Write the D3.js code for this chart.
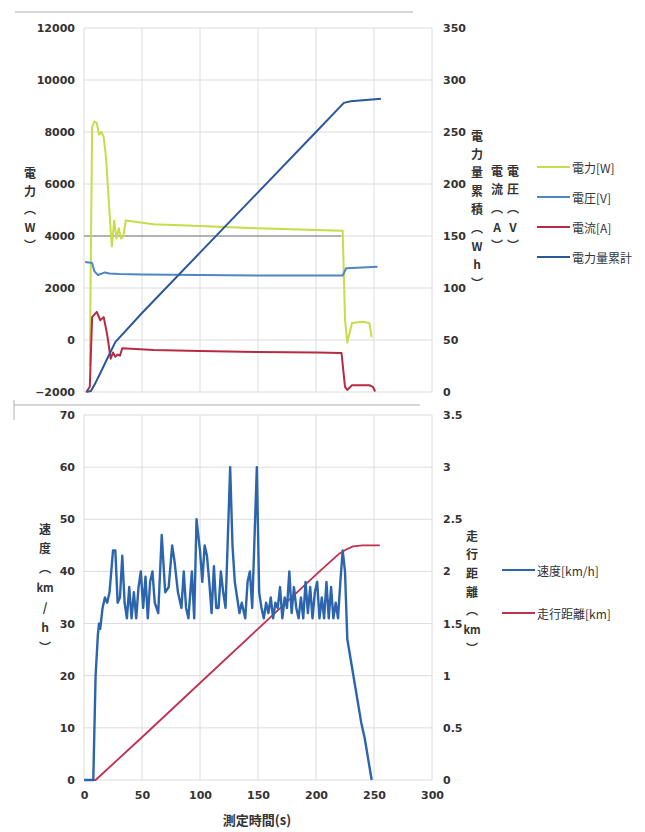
<!DOCTYPE html>
<html>
<head>
<meta charset="utf-8">
<title>電力・速度 測定</title>
<script src="https://d3js.org/d3.v7.min.js"></script>
<style>
  body { margin: 0; background: #fff; }
  .tick text { font-family: 'DejaVu Sans', sans-serif; font-size: 11px; font-weight: bold; fill: #333; }
  .grid line { stroke: #dcdcdc; stroke-width: 1; }
  .ttl { font-family: 'Noto Sans CJK JP', sans-serif; font-size: 13px; font-weight: bold; fill: #333; }
  .leg { font-family: 'Noto Sans CJK JP', sans-serif; font-size: 12px; fill: #333; }
</style>
</head>
<body>
<div id="chart"></div>
<script>
// ---- data ----
// top chart: power [W] (left axis)
var powerTime = [5, 7, 9, 11, 13, 15, 17, 19, 21, 23, 24, 26, 28, 30, 32, 34, 36, 60, 100, 150, 200, 223, 225, 227, 231, 240, 246, 248];
var powerW    = [-1000, 8200, 8400, 8350, 7900, 8000, 7800, 7000, 5600, 4200, 3600, 4600, 3900, 4300, 3900, 4000, 4600, 4450, 4380, 4300, 4230, 4200, 800, -100, 650, 700, 650, 100];

// voltage [V] (right axis)
var voltTime = [1, 7, 9, 12, 18, 22, 30, 50, 100, 150, 200, 223, 226, 253];
var voltV    = [125, 124, 116, 112.5, 115, 114, 113.5, 113, 112.5, 112, 112, 112, 119, 120.5];

// current [A] (right axis)
var currTime = [2, 5, 7, 11, 14, 17, 20, 23, 25, 27, 29, 31, 33, 60, 100, 150, 200, 222, 225, 227, 231, 246, 249, 251];
var currA    = [0, 5, 72, 77, 69, 72, 55, 32, 38, 34, 36, 35, 42, 40.5, 39.5, 38.5, 38, 37.5, 5, 2, 6.5, 6.5, 5, 0.5];

// cumulative energy [Wh] (right axis)
var energyTime = [2, 6, 10, 14, 20, 27, 50, 100, 150, 200, 224, 230, 256];
var energyWh   = [0, 1, 9, 18, 32, 48, 76, 134, 192, 250, 278, 279.5, 282];

// bottom chart: speed [km/h] (left axis)
var speedTime = [0, 8, 10, 12, 13, 14, 16, 18, 20, 22, 25, 27, 29, 31, 33, 35, 37, 39, 41, 43, 45, 47, 49, 51, 53, 55, 57, 59, 61, 64, 67, 70, 73, 76, 78, 81, 84, 86, 88, 90, 93, 95, 97, 100, 102, 104, 106, 108, 110, 112, 114, 116, 118, 120, 122, 126, 128, 130, 132, 134, 136, 139, 141, 143, 145, 149, 151, 153, 155, 157, 159, 161, 163, 165, 167, 169, 171, 173, 175, 177, 179, 181, 183, 185, 187, 189, 191, 193, 195, 197, 199, 201, 203, 205, 207, 209, 211, 213, 215, 217, 219, 221, 223, 225, 227, 230, 233, 236, 239, 242, 245, 248];
var speedKmh  = [0, 0, 20, 28, 30, 29, 33, 35, 34, 36, 44, 44, 34, 35, 43, 34, 31, 37, 31, 36, 31, 37, 40, 33, 39, 31, 38, 40, 34, 32, 47, 36, 37, 45, 42, 36, 33, 40, 33, 31, 40, 31, 50, 44, 38, 45, 43, 38, 32, 41, 33, 33, 40, 36, 33, 60, 45, 38, 35, 32, 34, 31, 38, 40, 33, 60, 36, 33, 31, 34, 32, 35, 31, 34, 33, 37, 31, 35, 33, 40, 32, 37, 33, 31, 35, 31, 38, 32, 37, 31, 36, 38, 31, 35, 31, 38, 31, 37, 31, 34, 31, 38, 44, 40, 27, 23, 19, 15, 11, 8, 4, 0];

// travelled distance [km] (right axis)
var distTime = [0, 10, 50, 100, 150, 200, 220, 226, 232, 240, 255];
var distKm   = [0, 0, 0.41, 0.93, 1.45, 1.97, 2.17, 2.21, 2.24, 2.25, 2.25];

// ticks
var timeTicks = [0, 50, 100, 150, 200, 250, 300];
var powerTicks = [-2000, 0, 2000, 4000, 6000, 8000, 10000, 12000];
var rightTopTicks = [0, 50, 100, 150, 200, 250, 300, 350];
var speedTicks = [0, 10, 20, 30, 40, 50, 60, 70];
var distTicks = [0, 0.5, 1, 1.5, 2, 2.5, 3, 3.5];

var topLegend = ['電力[W]', '電圧[V]', '電流[A]', '電力量累計'];
var bottomLegend = ['速度[km/h]', '走行距離[km]'];

var width = 645, height = 832;

var svg = d3.select('#chart').append('svg')
  .attr('width', width).attr('height', height)
  .style('background-color', '#fff');

var x = d3.scaleLinear().domain([0, 300]).range([84, 432]);

var yPow = d3.scaleLinear().domain([-2000, 12000]).range([392, 28]);
var yTopR = d3.scaleLinear().domain([0, 350]).range([392, 28]);
var ySpd = d3.scaleLinear().domain([0, 70]).range([780, 415]);
var yDist = d3.scaleLinear().domain([0, 3.5]).range([780, 415]);

// scan frame lines
svg.append('line').attr('x1', 15).attr('x2', 413).attr('y1', 12).attr('y2', 12)
  .style('stroke', '#c8c8c8').style('stroke-width', 1.5);
svg.append('line').attr('x1', 14).attr('x2', 420).attr('y1', 405).attr('y2', 405)
  .style('stroke', '#c8c8c8').style('stroke-width', 1.5);
svg.append('line').attr('x1', 14).attr('x2', 14).attr('y1', 400).attr('y2', 420)
  .style('stroke', '#b0b0b0').style('stroke-width', 1);

// gridlines
function grid(yScale, yTicks, top, bottom) {
  var g = svg.append('g').attr('class', 'grid');
  g.selectAll('.h').data(yTicks).enter().append('line')
    .attr('x1', x(0)).attr('x2', x(300))
    .attr('y1', function(d){ return yScale(d); })
    .attr('y2', function(d){ return yScale(d); });
  g.selectAll('.v').data(timeTicks).enter().append('line')
    .attr('x1', function(d){ return x(d); }).attr('x2', function(d){ return x(d); })
    .attr('y1', top).attr('y2', bottom);
  return g;
}
grid(yPow, powerTicks, 28, 392);
grid(ySpd, speedTicks, 415, 780);

// the 4000 W gridline shows up dark in the scan
svg.append('line').attr('x1', x(0)).attr('x2', x(222))
  .attr('y1', yPow(4000)).attr('y2', yPow(4000))
  .style('stroke', '#777').style('stroke-width', 1);

// axes (labels only)
function axis(gen, tx, ty) {
  var g = svg.append('g').attr('transform', 'translate(' + tx + ',' + ty + ')').call(gen);
  g.select('.domain').remove();
  g.selectAll('.tick line').remove();
  return g;
}
axis(d3.axisLeft(yPow).tickValues(powerTicks).tickSize(0).tickPadding(9).tickFormat(d3.format('d')), x(0), 0);
axis(d3.axisRight(yTopR).tickValues(rightTopTicks).tickSize(0).tickPadding(11).tickFormat(d3.format('d')), x(300), 0);
axis(d3.axisLeft(ySpd).tickValues(speedTicks).tickSize(0).tickPadding(9).tickFormat(d3.format('d')), x(0), 0);
axis(d3.axisRight(yDist).tickValues(distTicks).tickSize(0).tickPadding(11).tickFormat(function(d){ return String(d); }), x(300), 0);
axis(d3.axisBottom(x).tickValues(timeTicks).tickSize(0).tickPadding(11).tickFormat(d3.format('d')), 0, 780);

// series lines
function drawLine(ts, vs, yScale, color, w) {
  var pts = ts.map(function(t, i){ return [t, vs[i]]; });
  var line = d3.line().x(function(d){ return x(d[0]); }).y(function(d){ return yScale(d[1]); });
  svg.append('path').datum(pts).attr('d', line)
    .style('fill', 'none').style('stroke', color).style('stroke-width', w)
    .style('stroke-linejoin', 'round');
}
var cPower = '#c8dc4a', cVolt = '#4f86c6', cCurr = '#b82a42', cEnergy = '#2b579a';
var cSpeed = '#2c65ad', cDist = '#c0304f';

drawLine(powerTime, powerW, yPow, cPower, 2);
drawLine(voltTime, voltV, yTopR, cVolt, 2);
drawLine(currTime, currA, yTopR, cCurr, 2);
drawLine(energyTime, energyWh, yTopR, cEnergy, 2);

drawLine(distTime, distKm, yDist, cDist, 1.8);
drawLine(speedTime, speedKmh, ySpd, cSpeed, 2.4);

// vertical axis titles, one glyph per row
function vTitle(tokens, cx, y0, step) {
  svg.append('g').selectAll('text').data(tokens).enter().append('text')
    .attr('class', 'ttl')
    .attr('x', cx)
    .attr('y', function(d, i){ return y0 + i * step; })
    .attr('text-anchor', 'middle')
    .attr('dominant-baseline', 'central')
    .style('font-size', function(d){ return d.length > 1 ? '11px' : '12px'; })
    .text(function(d){ return d; });
}
vTitle(['電', '力', '︵', 'W', '︶'], 30, 172, 18);
vTitle(['電', '力', '量', '累', '積', '︵', 'W', 'h', '︶'], 477, 135, 18.4);
vTitle(['電', '流', '︵', 'A', '︶'], 497, 170, 18.7);
vTitle(['電', '圧', '︵', 'V', '︶'], 513, 170, 18.7);
vTitle(['速', '度', '︵', 'km', '/', 'h', '︶'], 45, 528, 19.7);
vTitle(['走', '行', '距', '離', '︵', 'km', '︶'], 472, 535, 18.7);

// x title
svg.append('text').attr('class', 'ttl')
  .attr('x', 257).attr('y', 825).attr('text-anchor', 'middle')
  .text('測定時間(s)');

// legends
function legend(labels, colors, lx, y0, step) {
  var g = svg.append('g');
  labels.forEach(function(lab, i) {
    var yy = y0 + i * step;
    g.append('line').attr('x1', lx).attr('x2', lx + 33).attr('y1', yy).attr('y2', yy)
      .style('stroke', colors[i]).style('stroke-width', 2);
    g.append('text').attr('class', 'leg')
      .attr('x', lx + 35).attr('y', yy).attr('dominant-baseline', 'central')
      .text(lab);
  });
}
legend(topLegend, [cPower, cVolt, cCurr, cEnergy], 537, 167, 30);
legend(bottomLegend, [cSpeed, cDist], 502, 570, 43);
</script>
</body>
</html>
